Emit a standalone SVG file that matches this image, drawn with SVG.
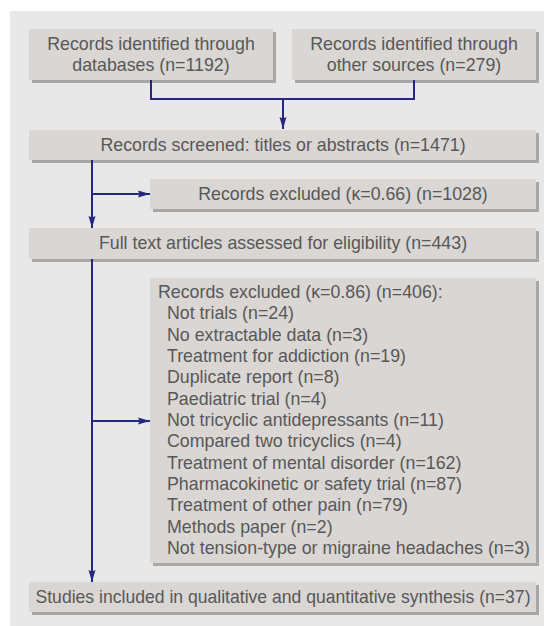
<svg xmlns="http://www.w3.org/2000/svg" width="544" height="626" viewBox="0 0 544 626">
<defs>
<style>
.box{fill:#d9d6d3}
.sh{fill:#a9a6a4}
.t{font-family:"Liberation Sans",Arial,sans-serif;font-size:17.8px;fill:#585858}
.c{text-anchor:middle}
.ln{fill:none;stroke:#27277f;stroke-width:2}
</style>
<marker id="ah" markerUnits="userSpaceOnUse" markerWidth="12" markerHeight="8" refX="12" refY="4" orient="auto" viewBox="0 0 12 8">
<path d="M0,0.5 L12,4 L0,7.5 L1.5,4 z" fill="#27277f"/>
</marker>
</defs>
<rect x="10" y="11" width="534" height="615" fill="#e8e8e8"/>
<g id="n1">
<rect class="sh" x="32" y="32" width="244" height="51"/>
<rect class="box" x="29" y="29" width="244" height="51"/>
<text class="t c" x="151" y="50">Records identified through</text>
<text class="t c" x="151" y="71">databases (n=1192)</text>
</g>
<g id="n2">
<rect class="sh" x="295" y="32" width="244" height="51"/>
<rect class="box" x="292" y="29" width="244" height="51"/>
<text class="t c" x="414" y="50">Records identified through</text>
<text class="t c" x="414" y="71">other sources (n=279)</text>
</g>
<g id="n3">
<rect class="sh" x="32" y="133" width="507" height="30"/>
<rect class="box" x="29" y="130" width="507" height="30"/>
<text class="t c" x="283" y="151">Records screened: titles or abstracts (n=1471)</text>
</g>
<g id="n4">
<rect class="sh" x="153" y="182" width="386" height="30"/>
<rect class="box" x="150" y="179" width="386" height="30"/>
<text class="t c" x="343" y="200">Records excluded (κ=0.66) (n=1028)</text>
</g>
<g id="n5">
<rect class="sh" x="32" y="231" width="507" height="31"/>
<rect class="box" x="29" y="228" width="507" height="31"/>
<text class="t c" x="283" y="249">Full text articles assessed for eligibility (n=443)</text>
</g>
<g id="n6">
<rect class="sh" x="153" y="281" width="386" height="285"/>
<rect class="box" x="150" y="278" width="386" height="285"/>
<text class="t" x="158" y="298">Records excluded (κ=0.86) (n=406):</text>
<text class="t" x="167" y="319.3">Not trials (n=24)</text>
<text class="t" x="167" y="340.7">No extractable data (n=3)</text>
<text class="t" x="167" y="362">Treatment for addiction (n=19)</text>
<text class="t" x="167" y="383.3">Duplicate report (n=8)</text>
<text class="t" x="167" y="404.7">Paediatric trial (n=4)</text>
<text class="t" x="167" y="426">Not tricyclic antidepressants (n=11)</text>
<text class="t" x="167" y="447.3">Compared two tricyclics (n=4)</text>
<text class="t" x="167" y="468.7">Treatment of mental disorder (n=162)</text>
<text class="t" x="167" y="490">Pharmacokinetic or safety trial (n=87)</text>
<text class="t" x="167" y="511.3">Treatment of other pain (n=79)</text>
<text class="t" x="167" y="532.7">Methods paper (n=2)</text>
<text class="t" x="167" y="554" textLength="363" lengthAdjust="spacingAndGlyphs">Not tension-type or migraine headaches (n=3)</text>
</g>
<g id="n7">
<rect class="sh" x="32" y="585" width="507" height="30"/>
<rect class="box" x="29" y="582" width="507" height="30"/>
<text class="t c" x="283" y="603" textLength="495" lengthAdjust="spacingAndGlyphs">Studies included in qualitative and quantitative synthesis (n=37)</text>
</g>
<g id="connectors">
<path class="ln" d="M151,80 V99 H414 V80"/>
<path class="ln" d="M283,99 V129" marker-end="url(#ah)"/>
<path class="ln" d="M92,160 V228" marker-end="url(#ah)"/>
<path class="ln" d="M92,194 H150" marker-end="url(#ah)"/>
<path class="ln" d="M92,259 V582" marker-end="url(#ah)"/>
<path class="ln" d="M92,421 H150" marker-end="url(#ah)"/>
</g>
</svg>
